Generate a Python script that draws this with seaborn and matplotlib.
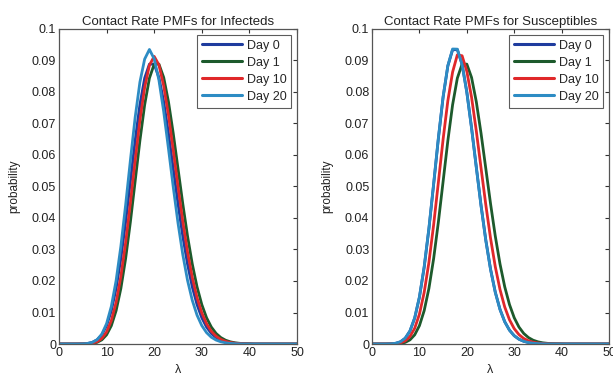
import numpy as np
import pandas as pd
import matplotlib
matplotlib.use("Agg")
import matplotlib.pyplot as plt
import seaborn as sns

lam = list(range(0, 51))
days = ["Day 0", "Day 1", "Day 10", "Day 20"]

_z = [0.0] * 10

# Infecteds (left panel)
inf_day0 = [0, 0, 0, 0, 0.00001, 0.00005, 0.00018, 0.00052, 0.00131, 0.00291,
            0.00582, 0.01058, 0.01763, 0.02712, 0.03874, 0.05165, 0.06456, 0.07595, 0.08439, 0.08884,
            0.08884, 0.08460, 0.07691, 0.06688, 0.05574, 0.04459, 0.03430, 0.02541, 0.01815, 0.01252,
            0.00834, 0.00538, 0.00336, 0.00204, 0.00120, 0.00069, 0.00038, 0.00021, 0.00011, 0.00006,
            0.00003] + _z
inf_day1 = [0, 0, 0, 0, 0, 0.00001, 0.00005, 0.00018, 0.00052, 0.00131,
            0.00291, 0.00582, 0.01058, 0.01763, 0.02712, 0.03874, 0.05165, 0.06456, 0.07595, 0.08439,
            0.08884, 0.08884, 0.08460, 0.07691, 0.06688, 0.05574, 0.04459, 0.03430, 0.02541, 0.01815,
            0.01252, 0.00834, 0.00538, 0.00336, 0.00204, 0.00120, 0.00069, 0.00038, 0.00021, 0.00011,
            0.00006] + _z
inf_day10 = [0, 0, 0, 0, 0.00001, 0.00003, 0.00008, 0.00026, 0.00072, 0.00176,
             0.00382, 0.00744, 0.01320, 0.02144, 0.03217, 0.04481, 0.05825, 0.07099, 0.08142, 0.08850,
             0.09130, 0.08860, 0.08197, 0.07265, 0.06160, 0.05005, 0.03904, 0.02928, 0.02115, 0.01473,
             0.00990, 0.00644, 0.00405, 0.00247, 0.00146, 0.00084, 0.00047, 0.00025, 0.00013, 0.00007,
             0.00003] + _z
inf_day20 = [0, 0, 0, 0, 0.00001, 0.00005, 0.00017, 0.00051, 0.00136, 0.00314,
             0.00646, 0.01195, 0.02011, 0.03100, 0.04411, 0.05829, 0.07189, 0.08312, 0.09045, 0.09350,
             0.09052, 0.08374, 0.07377, 0.06203, 0.04989, 0.03846, 0.02846, 0.02025, 0.01388, 0.00917,
             0.00585, 0.00361, 0.00215, 0.00125, 0.00070, 0.00038, 0.00020, 0.00010, 0.00005, 0.00002,
             0.00001] + _z

# Susceptibles (right panel)
sus_day0 = [0, 0, 0, 0.00001, 0.00006, 0.00023, 0.00070, 0.00182, 0.00410, 0.00822,
            0.01483, 0.02431, 0.03653, 0.05066, 0.06524, 0.07840, 0.08830, 0.09340, 0.09345, 0.08880,
            0.08000, 0.06865, 0.05622, 0.04404, 0.03307, 0.02383, 0.01651, 0.01101, 0.00708, 0.00440,
            0.00264, 0.00153, 0.00086, 0.00047, 0.00025, 0.00013, 0.00006, 0.00003, 0.00001, 0,
            0] + _z
sus_day1 = [0, 0, 0, 0, 0.00001, 0.00005, 0.00018, 0.00052, 0.00131, 0.00291,
            0.00582, 0.01058, 0.01763, 0.02712, 0.03874, 0.05165, 0.06456, 0.07595, 0.08439, 0.08884,
            0.08884, 0.08460, 0.07691, 0.06688, 0.05574, 0.04459, 0.03430, 0.02541, 0.01815, 0.01252,
            0.00834, 0.00538, 0.00336, 0.00204, 0.00120, 0.00069, 0.00038, 0.00021, 0.00011, 0.00006,
            0.00003] + _z
sus_day10 = [0, 0, 0, 0.00001, 0.00003, 0.00012, 0.00037, 0.00099, 0.00236, 0.00498,
             0.00947, 0.01635, 0.02589, 0.03784, 0.05135, 0.06504, 0.07724, 0.08633, 0.09180, 0.09150,
             0.08657, 0.07832, 0.06764, 0.05588, 0.04424, 0.03362, 0.02457, 0.01729, 0.01173, 0.00769,
             0.00487, 0.00298, 0.00177, 0.00102, 0.00057, 0.00031, 0.00016, 0.00008, 0.00004, 0.00002,
             0.00001] + _z
sus_day20 = [0, 0, 0, 0.00002, 0.00007, 0.00024, 0.00072, 0.00185, 0.00416, 0.00833,
             0.01499, 0.02452, 0.03678, 0.05093, 0.06548, 0.07857, 0.08840, 0.09365, 0.09360, 0.08867,
             0.07981, 0.06841, 0.05597, 0.04380, 0.03285, 0.02365, 0.01638, 0.01092, 0.00702, 0.00436,
             0.00261, 0.00152, 0.00086, 0.00047, 0.00025, 0.00013, 0.00006, 0.00003, 0.00001, 0,
             0] + _z

yticks = [0, 0.01, 0.02, 0.03, 0.04, 0.05, 0.06, 0.07, 0.08, 0.09, 0.1]
ytick_labels = ["0", "0.01", "0.02", "0.03", "0.04", "0.05", "0.06", "0.07", "0.08", "0.09", "0.1"]
xticks = [0, 10, 20, 30, 40, 50]
titles = ["Contact Rate PMFs for Infecteds", "Contact Rate PMFs for Susceptibles"]

palette = {"Day 0": "#1f3c9e", "Day 1": "#1d5a2c", "Day 10": "#e0282a", "Day 20": "#2d8cc4"}

sns.set_theme(style="white")
plt.rcParams["font.family"] = ["Liberation Sans", "DejaVu Sans"]

def make_df(series):
    frames = []
    for d, vals in zip(days, series):
        frames.append(pd.DataFrame({"lam": lam, "p": vals, "day": d}))
    return pd.concat(frames, ignore_index=True)

fig = plt.figure(figsize=(6.13, 3.76), dpi=100)
ax1 = fig.add_axes([0.0962, 0.0851, 0.3883, 0.8378])
ax2 = fig.add_axes([0.6069, 0.0851, 0.3866, 0.8378])

panels = [(ax1, [inf_day0, inf_day1, inf_day10, inf_day20]),
          (ax2, [sus_day0, sus_day1, sus_day10, sus_day20])]

for (ax, series), title in zip(panels, titles):
    df = make_df(series)
    sns.lineplot(data=df, x="lam", y="p", hue="day", hue_order=days,
                 palette=palette, linewidth=2.0, ax=ax)
    ax.set_xlim(0, 50)
    ax.set_ylim(0, 0.1)
    ax.set_xticks(xticks)
    ax.set_xticklabels([str(t) for t in xticks])
    ax.set_yticks(yticks)
    ax.set_yticklabels(ytick_labels)
    ax.tick_params(direction="in", top=True, right=True, length=3, width=0.8,
                   labelsize=9, colors="#333333", pad=2)
    ax.tick_params(labelcolor="#222222")
    for s in ax.spines.values():
        s.set_color("#555555")
        s.set_linewidth(0.9)
    ax.set_title(title, fontsize=9.5, pad=3, color="#222222")
    ax.set_xlabel("\u03bb", fontsize=9, labelpad=4, color="#222222")
    ax.set_ylabel("probability", fontsize=8.5, labelpad=8, color="#222222")
    leg = ax.legend(loc="upper right", fontsize=9, handlelength=3.2,
                    handletextpad=0.4, borderpad=0.4, labelspacing=0.4,
                    frameon=True, fancybox=False, borderaxespad=0.45)
    leg.get_frame().set_edgecolor("#333333")
    leg.get_frame().set_linewidth(0.8)
    for h in leg.get_lines():
        h.set_linewidth(2.2)

fig.savefig("out.png", dpi=100)
